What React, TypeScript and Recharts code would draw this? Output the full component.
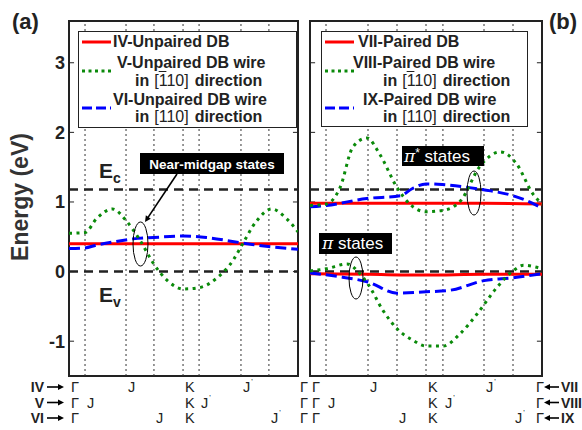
import React from 'react';
import { LineChart, Line, XAxis, YAxis, ReferenceLine, ReferenceArea } from 'recharts';

const W = 582;
const H = 430;
const FONT = '"Liberation Sans", Arial, sans-serif';
const INK = '#222';
const RED = '#ff0000';
const GREEN = '#0a8a0a';
const BLUE = '#0000ff';

// energy axis (eV)
const Y_DOMAIN = [-1.5, 3.6];
const Y_TICKS = [-1, 0, 1, 2, 3];
const EC = 1.18;
const EV = 0;

// k-path labels, one row per structure
const K_LABELS = ['Γ', 'J', 'K', "J'", 'Γ'];
const K_IV = [0, 0.249, 0.498, 0.751, 1];
const K_V = [0, 0.07, 0.498, 0.568, 1];
const K_VI = [0, 0.371, 0.498, 0.873, 1];
const K_VII = [0, 0.25, 0.5, 0.75, 1];
const K_VIII = [0, 0.069, 0.5, 0.573, 1];
const K_IX = [0, 0.375, 0.5, 0.875, 1];

// (a) unpaired DB bands
const IV_K = [0, 0.25, 0.5, 0.75, 1];
const IV_E = [0.4, 0.4, 0.4, 0.4, 0.4];
const V_K = [0, 0.07, 0.12, 0.19, 0.25, 0.31, 0.37, 0.43, 0.5, 0.57, 0.65, 0.72, 0.75, 0.82, 0.885, 0.95, 1];
const V_E = [0.55, 0.56, 0.76, 0.9, 0.73, 0.45, 0.11, -0.13, -0.25, -0.23, -0.08, 0.18, 0.35, 0.73, 0.9, 0.76, 0.57];
const VI_K = [0, 0.07, 0.12, 0.2, 0.28, 0.37, 0.5, 0.6, 0.72, 0.8, 0.87, 1];
const VI_E = [0.33, 0.34, 0.38, 0.43, 0.47, 0.49, 0.51, 0.49, 0.43, 0.39, 0.36, 0.32];

// (b) paired DB bands (pi* upper, pi lower)
const VII_K = [0, 0.25, 0.5, 0.75, 1];
const VII_UP = [0.98, 0.98, 0.98, 0.98, 0.97];
const VII_LO = [-0.03, -0.04, -0.05, -0.04, -0.04];
const VIII_UP_K = [0, 0.07, 0.13, 0.185, 0.245, 0.3, 0.375, 0.43, 0.5, 0.575, 0.65, 0.73, 0.82, 0.89, 0.96, 1];
const VIII_UP_E = [0.95, 0.97, 1.21, 1.79, 1.92, 1.69, 1.21, 0.97, 0.86, 0.88, 1.02, 1.5, 1.72, 1.55, 1.12, 0.97];
const VIII_LO_K = [0, 0.07, 0.16, 0.215, 0.25, 0.315, 0.375, 0.445, 0.5, 0.575, 0.645, 0.72, 0.805, 0.875, 0.92, 1];
const VIII_LO_E = [0.01, 0.04, 0.11, -0.03, -0.18, -0.56, -0.82, -0.99, -1.07, -1.07, -0.9, -0.61, -0.23, 0.01, 0.09, 0.04];
const IX_UP_K = [0, 0.07, 0.245, 0.39, 0.44, 0.5, 0.57, 0.68, 0.76, 0.875, 0.96, 1];
const IX_UP_E = [0.93, 0.95, 1.05, 1.09, 1.19, 1.26, 1.25, 1.21, 1.17, 1.09, 0.98, 0.91];
const IX_LO_K = [0, 0.14, 0.25, 0.375, 0.5, 0.6, 0.75, 0.875, 1];
const IX_LO_E = [-0.02, -0.08, -0.15, -0.31, -0.29, -0.27, -0.13, -0.09, -0.03];

const zip = (ks: number[], es: number[]) => ks.map((k, i) => ({ k, e: es[i] }));

const STYLE: Record<string, any> = {
  solid: { strokeWidth: 3 },
  dot: { strokeWidth: 3, strokeDasharray: '3 4.5' },
  dash: { strokeWidth: 3, strokeDasharray: '11 5' },
};

const LEFT_CURVES = [
  { data: zip(IV_K, IV_E), color: RED, style: 'solid' },
  { data: zip(VI_K, VI_E), color: BLUE, style: 'dash' },
  { data: zip(V_K, V_E), color: GREEN, style: 'dot' },
];
const RIGHT_CURVES = [
  { data: zip(VII_K, VII_UP), color: RED, style: 'solid' },
  { data: zip(VII_K, VII_LO), color: RED, style: 'solid' },
  { data: zip(IX_UP_K, IX_UP_E), color: BLUE, style: 'dash' },
  { data: zip(IX_LO_K, IX_LO_E), color: BLUE, style: 'dash' },
  { data: zip(VIII_UP_K, VIII_UP_E), color: GREEN, style: 'dot' },
  { data: zip(VIII_LO_K, VIII_LO_E), color: GREEN, style: 'dot' },
];

const KTick = ({ x, y, payload, row, endAnchor }: any) => {
  const i = row.indexOf(payload.value);
  const lab = K_LABELS[i] ?? '';
  const prime = lab.endsWith("'");
  const end = endAnchor && i === row.length - 1;
  return (
    <text x={x + 2} y={y + 16} textAnchor={end ? 'end' : 'start'} fontSize={14.5} fill={INK} fontFamily={FONT}>
      {prime ? lab.slice(0, -1) : lab}
      {prime && <tspan dx={1} dy={-8} fontSize={8}>'</tspan>}
    </text>
  );
};

function Panel({ margin, showY, rows, curves, endAnchor }: any) {
  const grid = Array.from(new Set<number>(rows.flat())).filter((v) => v > 0 && v < 1);
  return (
    <div style={{ position: 'absolute', left: 0, top: 0 }}>
      <LineChart width={W} height={H} margin={margin}>
        {rows.map((r: number[], i: number) => (
          <XAxis
            key={i}
            xAxisId={i}
            dataKey="k"
            type="number"
            domain={[0, 1]}
            ticks={r}
            interval={0}
            height={15.5}
            tickLine={false}
            axisLine={false}
            tickSize={0}
            tickMargin={0}
            allowDataOverflow
            tick={(p: any) => <KTick {...p} row={r} endAnchor={endAnchor} />}
          />
        ))}
        <YAxis
          type="number"
          domain={Y_DOMAIN}
          ticks={Y_TICKS}
          hide={!showY}
          width={60}
          allowDataOverflow
          tickLine={false}
          axisLine={false}
          tickSize={2}
          tickMargin={2}
          tick={{ fontSize: 18, fontWeight: 'bold', fill: INK, fontFamily: FONT }}
        />
        {grid.map((g) => (
          <ReferenceLine key={'g' + g} xAxisId={0} x={g} stroke="#333" strokeWidth={1} strokeDasharray="2 3" />
        ))}
        {Y_TICKS.map((t) => (
          <ReferenceLine key={'tl' + t} xAxisId={0} segment={[{ x: 0, y: t }, { x: 0.022, y: t }]} stroke={INK} />
        ))}
        {Y_TICKS.map((t) => (
          <ReferenceLine key={'tr' + t} xAxisId={0} segment={[{ x: 0.978, y: t }, { x: 1, y: t }]} stroke={INK} />
        ))}
        <ReferenceLine xAxisId={0} y={EC} stroke={INK} strokeWidth={2.5} strokeDasharray="9 6" />
        <ReferenceLine xAxisId={0} y={EV} stroke={INK} strokeWidth={2.5} strokeDasharray="9 6" />
        {curves.map((c: any, i: number) => (
          <Line
            key={i}
            xAxisId={0}
            data={c.data}
            dataKey="e"
            type="monotone"
            stroke={c.color}
            dot={false}
            activeDot={false}
            isAnimationActive={false}
            {...STYLE[c.style]}
          />
        ))}
        <ReferenceArea xAxisId={0} x1={0} x2={1} y1={Y_DOMAIN[0]} y2={Y_DOMAIN[1]} fill="none" stroke={INK} strokeWidth={2} />
      </LineChart>
    </div>
  );
}

const txt: React.CSSProperties = { position: 'absolute', whiteSpace: 'nowrap', fontFamily: FONT, fontWeight: 'bold', fontSize: 16, color: INK, lineHeight: '18px' };

const Bar110 = ({ over }: { over: boolean }) => (
  <span style={{ fontWeight: 'normal', margin: '0 6px 0 5px' }}>
    [{over ? <span style={{ textDecoration: 'overline' }}>1</span> : '1'}10]
  </span>
);

const Sample = ({ x, y, color, style }: any) => (
  <svg style={{ position: 'absolute', left: x, top: y - 3 }} width={29} height={6}>
    <line x1={0} x2={29} y1={3} y2={3} stroke={color} {...STYLE[style]} strokeDasharray={style === 'dot' ? '3 3.5' : style === 'dash' ? '10 4' : undefined} />
  </svg>
);

function LegendBox({ box, sx, items }: any) {
  return (
    <>
      <div style={{ position: 'absolute', left: box[0], top: box[1], width: box[2], height: box[3], border: `1.5px solid ${INK}`, background: '#fff', boxSizing: 'border-box' }} />
      {items.map((it: any, i: number) => (
        <React.Fragment key={i}>
          <Sample x={sx} y={it.sy} color={it.color} style={it.style} />
          {it.lines.map((l: any, j: number) => (
            <div key={j} style={{ ...txt, left: l.x, top: l.y - 9 }}>{l.c}</div>
          ))}
        </React.Fragment>
      ))}
    </>
  );
}

const Arrow = ({ x1, y1, x2, y2 }: any) => {
  const a = Math.atan2(y2 - y1, x2 - x1);
  const L = 6;
  const p = [
    [x2, y2],
    [x2 - L * Math.cos(a) + 3 * Math.sin(a), y2 - L * Math.sin(a) - 3 * Math.cos(a)],
    [x2 - L * Math.cos(a) - 3 * Math.sin(a), y2 - L * Math.sin(a) + 3 * Math.cos(a)],
  ];
  return (
    <g>
      <line x1={x1} y1={y1} x2={x2 - 4 * Math.cos(a)} y2={y2 - 4 * Math.sin(a)} stroke="#000" strokeWidth={1.6} />
      <polygon points={p.map((q) => q.join(',')).join(' ')} fill="#000" />
    </g>
  );
};

export default function App() {
  return (
    <div style={{ position: 'absolute', left: 0, top: 0, width: W, height: H, background: '#fff', overflow: 'hidden' }}>
      <Panel margin={{ top: 21, right: 284, bottom: 7.5, left: 9 }} showY rows={[K_IV, K_V, K_VI]} curves={LEFT_CURVES} endAnchor={false} />
      <Panel margin={{ top: 21, right: 40, bottom: 7.5, left: 310 }} showY={false} rows={[K_VII, K_VIII, K_IX]} curves={RIGHT_CURVES} endAnchor />

      <LegendBox
        box={[78, 31, 219, 97]}
        sx={82}
        items={[
          { sy: 42, color: RED, style: 'solid', lines: [{ x: 113, y: 42, c: 'IV-Unpaired DB' }] },
          { sy: 71, color: GREEN, style: 'dot', lines: [{ x: 117, y: 63, c: 'V-Unpaired DB wire' }, { x: 135, y: 81, c: <>in<Bar110 over />direction</> }] },
          { sy: 108, color: BLUE, style: 'dash', lines: [{ x: 113, y: 100, c: 'VI-Unpaired DB wire' }, { x: 135, y: 117, c: <>in<Bar110 over={false} />direction</> }] },
        ]}
      />
      <LegendBox
        box={[321, 31, 207, 96]}
        sx={325}
        items={[
          { sy: 42, color: RED, style: 'solid', lines: [{ x: 358, y: 42, c: 'VII-Paired DB' }] },
          { sy: 71, color: GREEN, style: 'dot', lines: [{ x: 353, y: 63, c: 'VIII-Paired DB wire' }, { x: 383, y: 81, c: <>in<Bar110 over />direction</> }] },
          { sy: 108, color: BLUE, style: 'dash', lines: [{ x: 363, y: 100, c: 'IX-Paired DB wire' }, { x: 383, y: 117, c: <>in<Bar110 over={false} />direction</> }] },
        ]}
      />

      <svg width={W} height={H} style={{ position: 'absolute', left: 0, top: 0, pointerEvents: 'none' }} fontFamily={FONT}>
        <text x={12} y={29} fontSize={22} fontWeight="bold" fill={INK}>(a)</text>
        <text x={549} y={29} fontSize={22} fontWeight="bold" fill={INK}>(b)</text>
        <text transform="translate(28,197) rotate(-90)" textAnchor="middle" fontSize={23} fontWeight="bold" fill="#333">Energy (eV)</text>

        <text x={99} y={178} fontSize={21} fontWeight="bold" fill={INK}>E<tspan fontSize={14} dy={5}>c</tspan></text>
        <text x={99} y={302} fontSize={21} fontWeight="bold" fill={INK}>E<tspan fontSize={14} dy={5}>v</tspan></text>

        <rect x={140} y={153} width={144} height={21} fill="#000" />
        <text x={212} y={168.5} textAnchor="middle" fontSize={13.5} fontWeight="bold" fill="#fff">Near-midgap states</text>
        <Arrow x1={177} y1={174} x2={145} y2={222} />
        <ellipse cx={140.5} cy={244} rx={7.5} ry={22} fill="none" stroke="#000" strokeWidth={1} />

        <rect x={402} y={146} width={82} height={20} fill="#000" />
        <text x={404} y={162} fontSize={17} fill="#fff"><tspan fontStyle="italic" fontFamily="'DejaVu Serif', serif">π</tspan><tspan fontSize={12} dy={-5}>*</tspan><tspan dy={5}> states</tspan></text>
        <ellipse cx={474} cy={193} rx={7} ry={22} fill="none" stroke="#000" strokeWidth={1} />

        <rect x={319} y={233} width={73} height={21} fill="#000" />
        <text x={322} y={249} fontSize={17} fill="#fff"><tspan fontStyle="italic" fontFamily="'DejaVu Serif', serif">π</tspan> states</text>
        <ellipse cx={356} cy={278} rx={7} ry={21} fill="none" stroke="#000" strokeWidth={1} />

        {['IV', 'V', 'VI'].map((r, i) => (
          <g key={r}>
            <text x={44} y={392 + i * 15.5} textAnchor="end" fontSize={14} fontWeight="bold" fill={INK}>{r}</text>
            <Arrow x1={47} y1={387 + i * 15.5} x2={64} y2={387 + i * 15.5} />
          </g>
        ))}
        {['VII', 'VIII', 'IX'].map((r, i) => (
          <g key={r}>
            <Arrow x1={559} y1={387 + i * 15.5} x2={544} y2={387 + i * 15.5} />
            <text x={561} y={392 + i * 15.5} fontSize={14} fontWeight="bold" fill={INK}>{r}</text>
          </g>
        ))}
      </svg>
    </div>
  );
}
